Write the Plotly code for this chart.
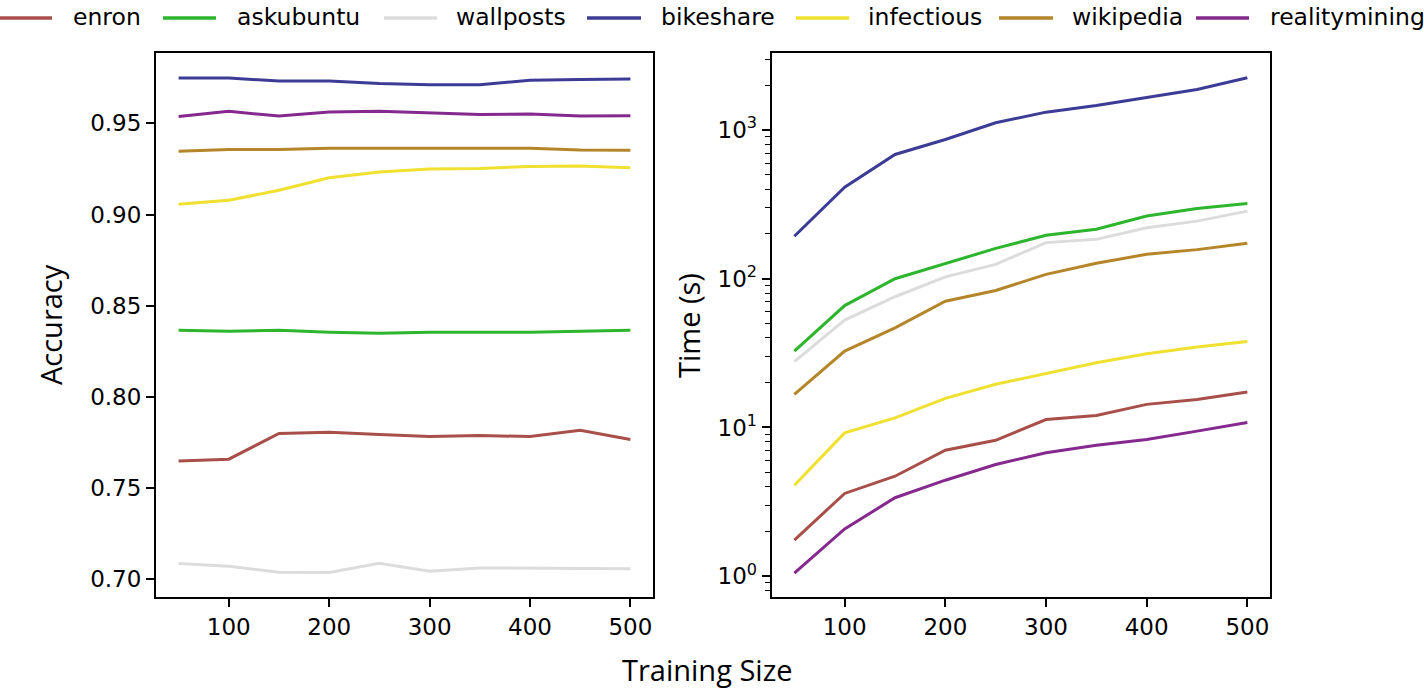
import plotly.graph_objects as go

sizes = [50, 100, 150, 200, 250, 300, 350, 400, 450, 500]
datasets = ["enron", "askubuntu", "wallposts", "bikeshare", "infectious", "wikipedia", "realitymining"]
colors = ["#a84f4a", "#2db52d", "#dcdcdc", "#3c3c96", "#f0e030", "#b5852a", "#85298f"]

acc_enron = [0.7649, 0.7659, 0.7800, 0.7807, 0.7794, 0.7783, 0.7789, 0.7783, 0.7818, 0.7767]
acc_askubuntu = [0.8366, 0.8360, 0.8366, 0.8355, 0.8350, 0.8355, 0.8355, 0.8355, 0.8360, 0.8366]
acc_wallposts = [0.7087, 0.7072, 0.7039, 0.7038, 0.7089, 0.7045, 0.7063, 0.7060, 0.7060, 0.7058]
acc_bikeshare = [0.9748, 0.9748, 0.9732, 0.9732, 0.9718, 0.9712, 0.9712, 0.9736, 0.9741, 0.9743]
acc_infectious = [0.9056, 0.9078, 0.9133, 0.9202, 0.9233, 0.9250, 0.9252, 0.9264, 0.9266, 0.9257]
acc_wikipedia = [0.9347, 0.9356, 0.9356, 0.9363, 0.9363, 0.9363, 0.9359, 0.9363, 0.9354, 0.9352]
acc_realitymining = [0.9538, 0.9566, 0.9540, 0.9562, 0.9567, 0.9556, 0.9549, 0.9551, 0.9540, 0.9542]

time_enron = [1.75, 3.6, 4.7, 7.03, 8.2, 11.3, 12.05, 14.3, 15.4, 17.3]
time_askubuntu = [32.6, 66, 100, 127, 160, 196, 215, 264, 297, 321]
time_wallposts = [27.7, 52.7, 75.7, 103, 125, 175, 184, 220, 244, 285]
time_bikeshare = [193, 413, 685, 864, 1120, 1319, 1463, 1648, 1875, 2249]
time_infectious = [4.09, 9.2, 11.6, 15.7, 19.5, 23.1, 27.2, 31.3, 34.7, 37.9]
time_wikipedia = [16.7, 32.6, 46.8, 70.6, 83.4, 107, 127, 146, 157, 173]
time_realitymining = [1.05, 2.08, 3.37, 4.42, 5.64, 6.76, 7.6, 8.3, 9.45, 10.8]

acc_series = [acc_enron, acc_askubuntu, acc_wallposts, acc_bikeshare, acc_infectious, acc_wikipedia, acc_realitymining]
time_series = [time_enron, time_askubuntu, time_wallposts, time_bikeshare, time_infectious, time_wikipedia, time_realitymining]

acc_ticks = [0.70, 0.75, 0.80, 0.85, 0.90, 0.95]
x_ticks = [100, 200, 300, 400, 500]
time_major = [1, 10, 100, 1000]
time_major_text = ["10<sup>0</sup>", "10<sup>1</sup>", "10<sup>2</sup>", "10<sup>3</sup>"]

W, H = 1424, 692
fig = go.Figure()
for name, col, a, t in zip(datasets, colors, acc_series, time_series):
    fig.add_trace(go.Scatter(x=sizes, y=a, mode="lines", name=name,
                             line=dict(color=col, width=3), xaxis="x", yaxis="y",
                             legendgroup=name, showlegend=False))
    fig.add_trace(go.Scatter(x=sizes, y=t, mode="lines", name=name,
                             line=dict(color=col, width=3), xaxis="x2", yaxis="y2",
                             legendgroup=name, showlegend=False))

minor_vals = []
for d in [0.1, 1, 10, 100, 1000]:
    for m in range(2, 10):
        minor_vals.append(m * d)

tickfont = dict(family="DejaVu Sans", size=23, color="black")
axis_common = dict(showline=True, linecolor="black", linewidth=2, mirror=True,
                   ticks="outside", ticklen=8, tickwidth=1.6, tickcolor="black",
                   showgrid=False, zeroline=False, tickfont=tickfont)
title_font = dict(family="Open Sans", size=29, color="black")

# legend row (matplotlib-style, one row across the top)
leg_line_x = [(0, 52), (163, 216), (384, 437), (587, 641), (796, 849), (999, 1053), (1196, 1249)]
leg_text_x = [71, 235, 454, 659, 866, 1070, 1268]
leg_y = 18
shapes = []
annotations = []
for name, col, (x0, x1), tx in zip(datasets, colors, leg_line_x, leg_text_x):
    shapes.append(dict(type="line", xref="paper", yref="paper",
                       x0=x0 / W, x1=x1 / W, y0=1 - leg_y / H, y1=1 - leg_y / H,
                       line=dict(color=col, width=3.5)))
    annotations.append(dict(text=name, xref="paper", yref="paper", x=tx / W, y=1 - (leg_y - 1) / H,
                            xanchor="left", yanchor="middle", showarrow=False,
                            font=dict(family="DejaVu Sans", size=23.5, color="black")))

annotations += [
    dict(text="Accuracy", x=50 / W, y=1 - 325 / H, xref="paper", yref="paper", textangle=-90,
         xanchor="center", yanchor="middle", showarrow=False, font=title_font),
    dict(text="Time (s)", x=688 / W, y=1 - 326 / H, xref="paper", yref="paper", textangle=-90,
         xanchor="center", yanchor="middle", showarrow=False, font=title_font),
    dict(text="Training Size", x=707 / W, y=0.002, xref="paper", yref="paper",
         xanchor="center", yanchor="bottom", showarrow=False, font=title_font),
]

fig.update_layout(
    width=W, height=H,
    margin=dict(l=0, r=0, t=0, b=0),
    plot_bgcolor="white", paper_bgcolor="white",
    showlegend=False,
    xaxis=dict(domain=[156 / W, 653 / W], range=[27.5, 522.5], tickvals=x_ticks,
               anchor="y", **axis_common),
    yaxis=dict(domain=[1 - 597.3 / H, 1 - 53.3 / H], range=[0.6902, 0.9884], tickvals=acc_ticks,
               tickformat=".2f", anchor="x", **axis_common),
    xaxis2=dict(domain=[771.7 / W, 1270 / W], range=[27.5, 522.5], tickvals=x_ticks,
                anchor="y2", **axis_common),
    yaxis2=dict(domain=[1 - 597.3 / H, 1 - 53.3 / H], type="log", range=[-0.142, 3.516],
                tickvals=time_major, ticktext=time_major_text, anchor="x2",
                minor=dict(tickvals=minor_vals, ticks="outside", ticklen=5, tickwidth=1.2, tickcolor="black"),
                **axis_common),
    shapes=shapes,
    annotations=annotations,
)

fig.write_html("out.html", config={"displayModeBar": False},
               post_script="document.body.style.margin='0px';document.body.style.overflow='hidden';")
